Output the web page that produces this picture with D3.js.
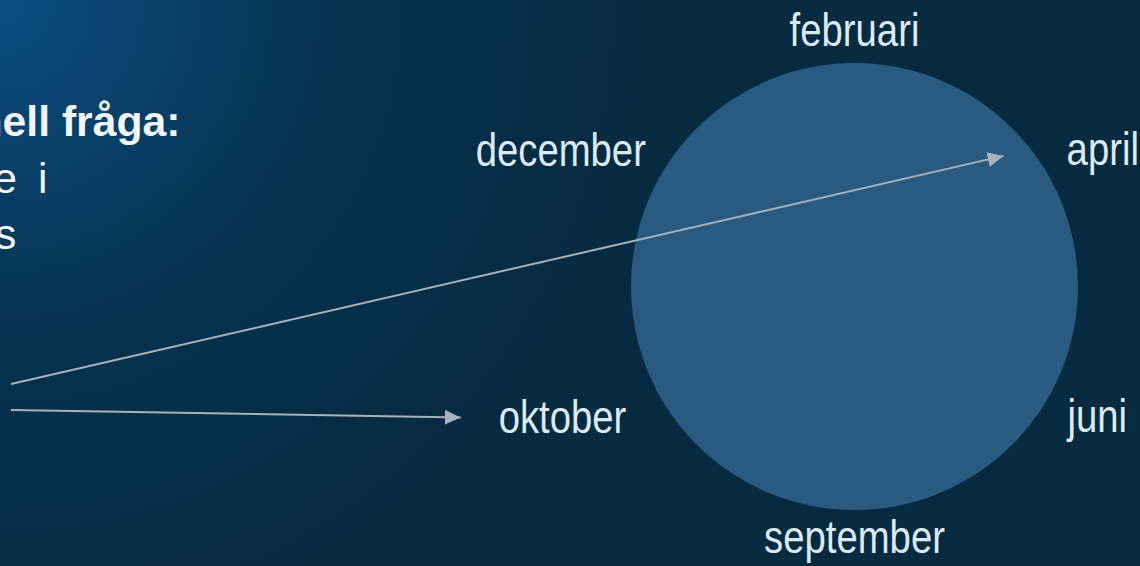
<!DOCTYPE html>
<html>
<head>
<meta charset="utf-8">
<script src="https://cdn.jsdelivr.net/npm/d3@7"></script>
<style>
  html, body { margin: 0; padding: 0; background: #062a41; overflow: hidden; }
  .month { font-family: 'Liberation Sans', Arial, sans-serif; fill: #dbeaf7; }
  .intro { font-family: 'Liberation Sans', Arial, sans-serif; fill: #f2f5f8; }
</style>
</head>
<body>
<div id="chart"></div>
<script>
'use strict';

// months around the year wheel
var months = ['februari', 'april', 'juni', 'september', 'oktober', 'december'];
// clock angle (deg) and distance (in circle radii) of each label
var monthAngles = [0, 61, 118, 180, 246, 295];
var monthDist = [1.15, 1.27, 1.23, 1.12, 1.43, 1.45];

// arrows drawn from the cut-off question text
var arrowTargets = ['april', 'oktober'];
var arrowStartY = [384, 410];

// visible pieces of the left text block
var introLines = [
  { text: 'nell fråga:', bold: true },
  { text: 'e', bold: false },
  { text: 'i', bold: false },
  { text: 's', bold: false }
];

var width = 1140,
    height = 566;
var cx = 854.5,
    cy = 286.5,
    r = 223.5;
var narrow = 0.82; // labels use a condensed face

var svg = d3.select('#chart')
  .append('svg')
  .attr('width', width)
  .attr('height', height);

var defs = svg.append('defs');

var grad = defs.append('radialGradient')
  .attr('id', 'bg')
  .attr('gradientUnits', 'userSpaceOnUse')
  .attr('cx', 0)
  .attr('cy', 0)
  .attr('r', 640);
grad.append('stop').attr('offset', '0%').attr('stop-color', '#0b4d80');
grad.append('stop').attr('offset', '55%').attr('stop-color', '#06314d');
grad.append('stop').attr('offset', '100%').attr('stop-color', '#062a40');

defs.append('marker')
  .attr('id', 'head')
  .attr('viewBox', '0 0 16 15')
  .attr('refX', 16)
  .attr('refY', 7.5)
  .attr('markerUnits', 'userSpaceOnUse')
  .attr('markerWidth', 16)
  .attr('markerHeight', 15)
  .attr('orient', 'auto')
  .append('path')
  .attr('d', 'M0,0 L16,7.5 L0,15 Z')
  .attr('fill', '#a6b3be');

svg.append('rect')
  .attr('width', width)
  .attr('height', height)
  .attr('fill', 'url(#bg)');

// scales: unit circle coordinates -> pixels
var x = d3.scaleLinear().domain([-1, 1]).range([cx - r, cx + r]);
var y = d3.scaleLinear().domain([-1, 1]).range([cy - r, cy + r]);

svg.append('circle')
  .attr('cx', x(0))
  .attr('cy', y(0))
  .attr('r', r)
  .attr('fill', '#2b5a80');

var labels = months.map(function(m, i){
  var a = monthAngles[i] * Math.PI / 180;
  return {
    name: m,
    ux: Math.sin(a) * monthDist[i],
    uy: -Math.cos(a) * monthDist[i]
  };
});

var monthText = svg.selectAll('text.month')
  .data(labels)
  .enter()
  .append('text')
  .attr('class', 'month')
  .attr('transform', function(d){
    return 'translate(' + x(d.ux) + ',' + y(d.uy) + ') scale(' + narrow + ',1)';
  })
  .attr('text-anchor', 'middle')
  .attr('dominant-baseline', 'central')
  .attr('font-size', '46.7px')
  .text(function(d){ return d.name; });

monthText.each(function(d){
  d.left = x(d.ux) - this.getComputedTextLength() * narrow / 2;
});

// arrows: end just in front of the label's left edge
var byName = {};
labels.forEach(function(d){ byName[d.name] = d; });

var arrows = arrowTargets.map(function(t, i){
  var lab = byName[t];
  var gap = t === 'april' ? 63 : 38;
  return {
    x1: 11,
    y1: arrowStartY[i],
    x2: lab.left - gap,
    y2: y(lab.uy) + (t === 'april' ? 7 : 1)
  };
});

svg.selectAll('line.arrow')
  .data(arrows)
  .enter()
  .append('line')
  .attr('class', 'arrow')
  .attr('x1', function(d){ return d.x1; })
  .attr('y1', function(d){ return d.y1; })
  .attr('x2', function(d){ return d.x2; })
  .attr('y2', function(d){ return d.y2; })
  .attr('stroke', '#a6b3be')
  .attr('stroke-width', 2)
  .attr('marker-end', 'url(#head)');

// left text block, cut by the window edge
var introX = [-23.5, -6.8, 38, -5];
var introY = [136, 192.5, 192.5, 248.5];

svg.selectAll('text.intro')
  .data(introLines)
  .enter()
  .append('text')
  .attr('class', 'intro')
  .attr('x', function(d, i){ return introX[i]; })
  .attr('y', function(d, i){ return introY[i]; })
  .attr('font-size', '42.7px')
  .attr('font-weight', function(d){ return d.bold ? 'bold' : 'normal'; })
  .text(function(d){ return d.text; });
</script>
</body>
</html>
